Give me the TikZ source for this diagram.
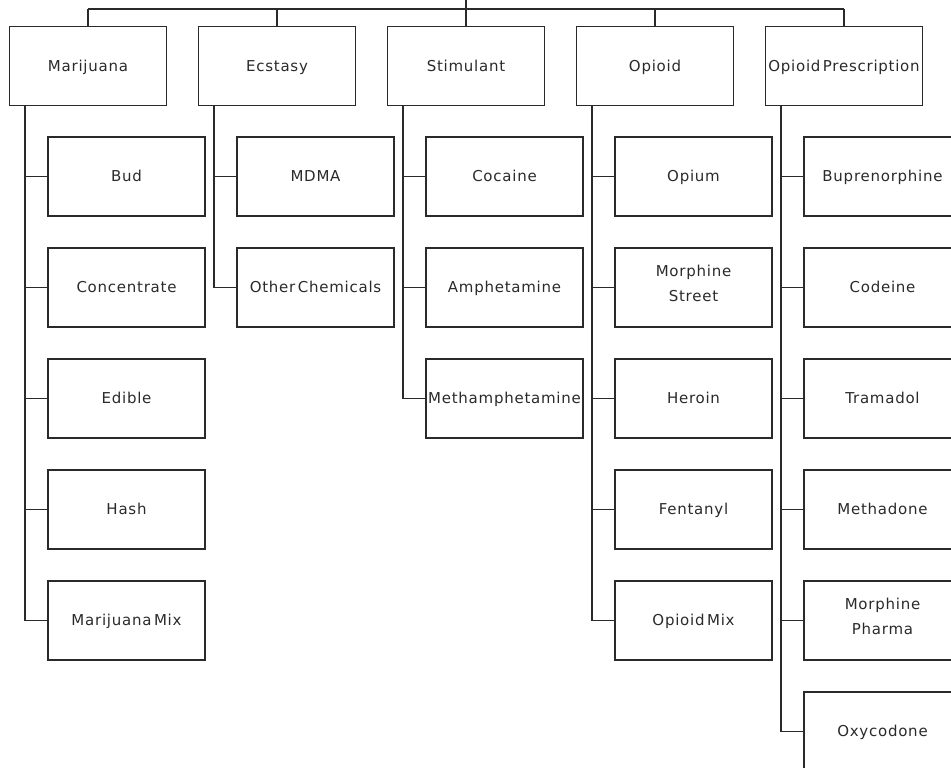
\documentclass[tikz,border=0pt]{standalone}
\usepackage{fontspec}
\setmainfont{DejaVu Sans}[LetterSpace=5,WordSpace=0.45]
\definecolor{ink}{HTML}{2A2A2A}
\begin{document}
\begin{tikzpicture}[x=1pt,y=-1pt,
  box/.style={draw=ink,line width=1.4pt,minimum width=157pt,minimum height=79pt,
    inner sep=0pt,align=center,text=ink,font=\fontsize{15pt}{25pt}\selectfont,
    execute at begin node=\strut,execute at end node=\strut},
  link/.style={draw=ink,line width=1.4pt}]
\useasboundingbox (0,0) rectangle (951,768);
\clip (0,0) rectangle (951,768);
% top level
\coordinate (root) at (466,0);
\coordinate (bar) at (466,9);
\node[box] (mar) at (88,66) {Marijuana};
\node[box] (ecs) at (277,66) {Ecstasy};
\node[box] (sti) at (466,66) {Stimulant};
\node[box] (opi) at (655,66) {Opioid};
\node[box] (pre) at (844,66) {Opioid Prescription};
\foreach \n in {mar,ecs,sti,opi,pre}{\draw[link] (bar -| \n.north) -- (\n.north);}
\draw[link] (bar -| mar.north) -- (bar -| pre.north);
\draw[link] (root) -- (bar);
% Marijuana
\node[box] (bud) at (126.5,176.5) {Bud};
\node[box] (con) at (126.5,287.5) {Concentrate};
\node[box] (edi) at (126.5,398.5) {Edible};
\node[box] (has) at (126.5,509.5) {Hash};
\node[box] (mmx) at (126.5,620.5) {Marijuana Mix};
\foreach \c in {bud,con,edi,has,mmx}{\draw[link] ([xshift=-63pt]mar.south) |- (\c.west);}
% Ecstasy
\node[box] (mdm) at (315.5,176.5) {MDMA};
\node[box] (oth) at (315.5,287.5) {Other Chemicals};
\foreach \c in {mdm,oth}{\draw[link] ([xshift=-63pt]ecs.south) |- (\c.west);}
% Stimulant
\node[box] (coc) at (504.5,176.5) {Cocaine};
\node[box] (amp) at (504.5,287.5) {Amphetamine};
\node[box] (met) at (504.5,398.5) {Methamphetamine};
\foreach \c in {coc,amp,met}{\draw[link] ([xshift=-63pt]sti.south) |- (\c.west);}
% Opioid
\node[box] (opm) at (693.5,176.5) {Opium};
\node[box] (mst) at (693.5,287.5) {Morphine\\Street};
\node[box] (her) at (693.5,398.5) {Heroin};
\node[box] (fen) at (693.5,509.5) {Fentanyl};
\node[box] (omx) at (693.5,620.5) {Opioid Mix};
\foreach \c in {opm,mst,her,fen,omx}{\draw[link] ([xshift=-63pt]opi.south) |- (\c.west);}
% Opioid Prescription
\node[box] (bup) at (882.5,176.5) {Buprenorphine};
\node[box] (cod) at (882.5,287.5) {Codeine};
\node[box] (tra) at (882.5,398.5) {Tramadol};
\node[box] (mtd) at (882.5,509.5) {Methadone};
\node[box] (mph) at (882.5,620.5) {Morphine\\Pharma};
\node[box] (oxy) at (882.5,731.5) {Oxycodone};
\foreach \c in {bup,cod,tra,mtd,mph,oxy}{\draw[link] ([xshift=-63pt]pre.south) |- (\c.west);}
\end{tikzpicture}
\end{document}
